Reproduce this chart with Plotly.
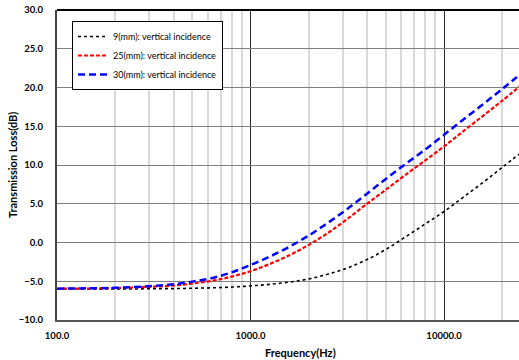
import plotly.graph_objects as go
import math

freq = [100, 125, 160, 200, 250, 315, 400, 500, 630, 800, 1000, 1250, 1600, 2000,
        2500, 3150, 4000, 5000, 6300, 8000, 10000, 12500, 16000, 20000, 25000]
tl_9mm = [-6.0, -6.0, -6.0, -6.0, -6.0, -5.95, -5.95, -5.9, -5.85, -5.75, -5.6, -5.4,
          -5.1, -4.7, -4.1, -3.3, -2.2, -0.9, 0.7, 2.4, 4.0, 5.8, 7.8, 9.7, 11.6]
tl_25mm = [-5.97, -5.95, -5.92, -5.88, -5.8, -5.7, -5.55, -5.3, -4.95, -4.4, -3.7, -2.8,
           -1.6, -0.3, 1.2, 3.0, 5.0, 6.8, 8.7, 10.6, 12.4, 14.3, 16.4, 18.3, 20.3]
tl_30mm = [-5.96, -5.93, -5.9, -5.85, -5.75, -5.6, -5.4, -5.05, -4.6, -3.85, -2.9, -1.85,
           -0.5, 0.9, 2.5, 4.3, 6.3, 8.2, 10.1, 12.0, 13.9, 15.8, 17.9, 19.8, 21.8]
names = ["9(mm): vertical incidence", "25(mm): vertical incidence", "30(mm): vertical incidence"]

FONT = "Lato"
fig = go.Figure()
fig.add_trace(go.Scatter(x=freq, y=tl_9mm, name=names[0], mode="lines",
                         line=dict(color="black", width=1.6, dash="dot", shape="spline")))
fig.add_trace(go.Scatter(x=freq, y=tl_25mm, name=names[1], mode="lines",
                         line=dict(color="#ff0000", width=2.2, dash="4px,2px", shape="spline")))
fig.add_trace(go.Scatter(x=freq, y=tl_30mm, name=names[2], mode="lines",
                         line=dict(color="#0000ff", width=2.5, dash="7px,4px", shape="spline")))

fig.update_layout(
    width=519, height=360,
    margin=dict(l=57, r=0, t=10, b=40),
    paper_bgcolor="white", plot_bgcolor="white",
    font=dict(family=FONT, color="black"),
    showlegend=True,
    legend=dict(x=(72-57)/462, y=(320-21)/310, xanchor="left", yanchor="top",
                bgcolor="white", bordercolor="black", borderwidth=1,
                font=dict(family=FONT, size=9, color="black"),
                itemwidth=30, tracegroupgap=0),
    xaxis=dict(type="log", range=[2, math.log10(24400)], dtick=1, tickformat=".1f",
               showgrid=True, gridcolor="#2a2a2a", gridwidth=1,
               minor=dict(dtick="D1", showgrid=True, gridcolor="#d9d9d9", gridwidth=1.5),
               showline=True, linecolor="#555555", linewidth=2,
               ticks="", ticklabelstandoff=6,
               tickfont=dict(family=FONT, size=9.5, color="black", weight="bold"),
               zeroline=False, automargin=False),
    yaxis=dict(range=[-10, 30], dtick=5, tickformat=".1f",
               showgrid=True, gridcolor="#808080", gridwidth=1,
               showline=True, linecolor="#444444", linewidth=2,
               ticks="", ticklabelstandoff=10,
               tickfont=dict(family=FONT, size=9.5, color="black", weight="bold"),
               zeroline=False, automargin=False),
    shapes=[dict(type="line", xref="paper", yref="paper", x0=0, x1=1, y0=1, y1=1,
                 line=dict(color="black", width=2))],
    annotations=[
        dict(text="<b>Frequency(Hz)</b>", xref="paper", yref="paper", x=(300-57)/462,
             y=-(352-320)/310, xanchor="center", yanchor="middle", showarrow=False,
             font=dict(family=FONT, size=11, color="black")),
        dict(text="<b>Transmission Loss(dB)</b>", xref="paper", yref="paper",
             x=-(57-12)/462, y=0.5, xanchor="center", yanchor="middle", textangle=-90,
             showarrow=False, font=dict(family=FONT, size=11, color="black")),
    ],
)
fig.write_html("out.html", config={"displayModeBar": False},
               post_script="document.body.style.margin='0';document.body.style.overflow='hidden';")
